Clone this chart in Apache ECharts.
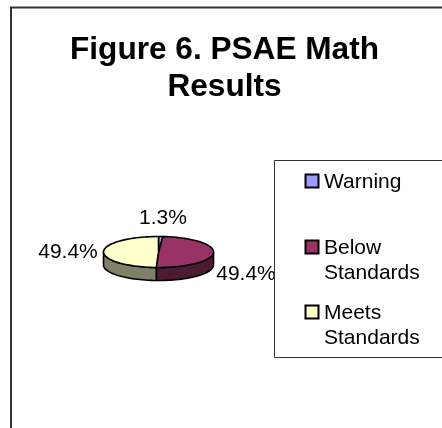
<!DOCTYPE html>
<html>
<head>
<meta charset="utf-8">
<style>
  html, body { margin: 0; padding: 0; background: #fff; }
  #main { width: 442px; height: 428px; }
</style>
<script src="https://cdn.jsdelivr.net/npm/echarts@6/dist/echarts.min.js"></script>
</head>
<body>
<div id="main"></div>
<script>
const categories = ['Warning', 'Below Standards', 'Meets Standards']
const legendLines = [['Warning'], ['Below', 'Standards'], ['Meets', 'Standards']]
const values = [1.3, 49.4, 49.4]

const colors = ['#9999ff', '#993366', '#ffffcc']
const sideColors = ['#4d4d80', '#4d1a33', '#808066']
const font = 'Arial, "Liberation Sans", sans-serif'

// tilted pie shape
const cx = 158.5
const cy = 252
const rx = 55
const ry = 15.5
const depth = 13
// label centres, in the order of the data
const labelPos = [[163, 218], [246, 274], [68, 252]]

const total = values.reduce((a, b) => a + b, 0)

function rimPoint(deg, dy) {
  const t = deg * Math.PI / 180
  return [cx + rx * Math.sin(t), cy - ry * Math.cos(t) + (dy || 0)]
}

function arc(from, to, dy) {
  const pts = []
  const n = Math.max(2, Math.ceil((to - from) / 3))
  for (let i = 0; i <= n; i++) {
    pts.push(rimPoint(from + (to - from) * i / n, dy))
  }
  return pts
}

function renderSlice(params, api) {
  const i = params.dataIndex
  const before = values.slice(0, i).reduce((a, b) => a + b, 0)
  const from = before / total * 360
  const to = (before + api.value(0)) / total * 360
  const children = []
  const lineStyle = { stroke: '#000', lineWidth: 1.6, lineJoin: 'round' }

  // outer wall, only on the front half
  const a = Math.max(from, 90)
  const b = Math.min(to, 270)
  if (b > a) {
    children.push({
      type: 'polygon',
      shape: { points: arc(a, b, 0).concat(arc(a, b, depth).reverse()) },
      style: Object.assign({ fill: sideColors[i] }, lineStyle)
    })
  }
  children.push({
    type: 'polygon',
    shape: { points: [[cx, cy]].concat(arc(from, to, 0)) },
    style: Object.assign({ fill: colors[i] }, lineStyle)
  })
  children.push({
    type: 'text',
    style: {
      x: labelPos[i][0],
      y: labelPos[i][1],
      text: api.value(0).toFixed(1) + '%',
      fill: '#000',
      font: '21px ' + font,
      align: 'center',
      verticalAlign: 'middle'
    }
  })
  return { type: 'group', children: children }
}

// legend rows, the first line of each row lines up with the swatch
const legendTops = [181, 247, 312]
const legendGraphics = []
legendLines.forEach((lines, i) => {
  legendGraphics.push({
    type: 'rect',
    shape: { x: 305.5, y: legendTops[i] - 6.5, width: 13, height: 13 },
    style: { fill: colors[i], stroke: '#000', lineWidth: 2 }
  })
  lines.forEach((line, j) => {
    legendGraphics.push({
      type: 'text',
      style: {
        x: 324,
        y: legendTops[i] + 1 + j * 25,
        text: line,
        fill: '#000',
        font: '21px ' + font,
        verticalAlign: 'middle'
      }
    })
  })
})

const chart = echarts.init(document.getElementById('main'))
chart.setOption({
  animation: false,
  title: {
    text: 'Figure 6. PSAE Math\nResults',
    left: 219.5,
    top: 27,
    textAlign: 'center',
    textStyle: {
      fontFamily: font,
      fontSize: 31.6,
      fontWeight: 'bold',
      color: '#000',
      lineHeight: 37
    }
  },
  graphic: [
    // chart frame, runs off the right and bottom of the picture
    {
      type: 'polyline',
      shape: { points: [[11, 428], [11, 7.5], [442, 7.5]] },
      style: { fill: null, stroke: '#333', lineWidth: 2 }
    },
    // legend box
    {
      type: 'polyline',
      shape: { points: [[442, 160.5], [274.5, 160.5], [274.5, 357.5], [442, 357.5]] },
      style: { fill: null, stroke: '#333', lineWidth: 1 },
      z: 10
    }
  ].concat(legendGraphics),
  series: [
    {
      type: 'custom',
      name: 'PSAE Math',
      coordinateSystem: 'none',
      clip: false,
      data: categories.map((c, i) => ({ name: c, value: [values[i]] })),
      renderItem: renderSlice
    }
  ]
})
</script>
</body>
</html>
